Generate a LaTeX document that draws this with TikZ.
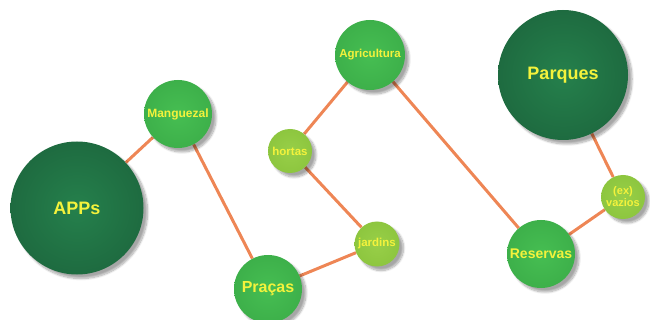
\documentclass[tikz,border=0pt]{standalone}
\usepackage{fontspec}
\setmainfont{Liberation Sans}
\usetikzlibrary{shadows.blur,backgrounds}
\definecolor{dkgreen}{HTML}{1E6B40}
\definecolor{dkgreenin}{HTML}{25804C}
\definecolor{mdgreen}{HTML}{3DB04A}
\definecolor{mdgreenin}{HTML}{46BE52}
\definecolor{ltgreen}{HTML}{8DC63F}
\definecolor{ltgreenin}{HTML}{98CF48}
\definecolor{txtyellow}{HTML}{F4F23C}
\definecolor{edgeorange}{HTML}{EE8655}
\tikzset{
  x=1pt, y=-1pt,
  bubble/.style={circle, inner sep=0pt, text=txtyellow, font=\bfseries,
    blur shadow={shadow xshift=4pt, shadow yshift=-4pt, shadow blur steps=10, shadow opacity=35}},
  bigb/.style={bubble, minimum size=#1, inner color=dkgreenin, outer color=dkgreen},
  midb/.style={bubble, minimum size=#1, inner color=mdgreenin, outer color=mdgreen},
  smallb/.style={bubble, minimum size=#1, inner color=ltgreenin, outer color=ltgreen},
  link/.style={draw=edgeorange, line width=3pt}
}
\begin{document}
\begin{tikzpicture}
\useasboundingbox (0,0) rectangle (650,320);
\node[bigb=133pt, font=\bfseries\fontsize{18}{20}\selectfont] (apps) at (77,208) {APPs};
\node[midb=68pt, font=\bfseries\fontsize{12}{14}\selectfont] (mang) at (178,114) {Manguezal};
\node[midb=68pt, font=\bfseries\fontsize{16}{18}\selectfont] (pracas) at (268,289) {Praças};
\node[smallb=44pt, font=\bfseries\fontsize{11.5}{13}\selectfont] (hortas) at (290,151) {hortas};
\node[midb=70pt, font=\bfseries\fontsize{11.5}{13}\selectfont] (agri) at (370,55) {Agricultura};
\node[smallb=45pt, font=\bfseries\fontsize{11.5}{13}\selectfont] (jard) at (377,244) {jardins};
\node[bigb=130pt, font=\bfseries\fontsize{18}{20}\selectfont] (parq) at (563,75) {Parques};
\node[smallb=44pt, align=center, font=\bfseries\fontsize{11}{12}\selectfont] (vaz) at (623,197) {(ex)\\vazios};
\node[midb=68pt, font=\bfseries\fontsize{14}{16}\selectfont] (res) at (541,254) {Reservas};
\begin{scope}[on background layer]
\draw[link] (apps) -- (mang);
\draw[link] (mang) -- (pracas);
\draw[link] (pracas) -- (jard);
\draw[link] (jard) -- (hortas);
\draw[link] (hortas) -- (agri);
\draw[link] (agri) -- (res);
\draw[link] (res) -- (vaz);
\draw[link] (vaz) -- (parq);
\end{scope}
\end{tikzpicture}
\end{document}
